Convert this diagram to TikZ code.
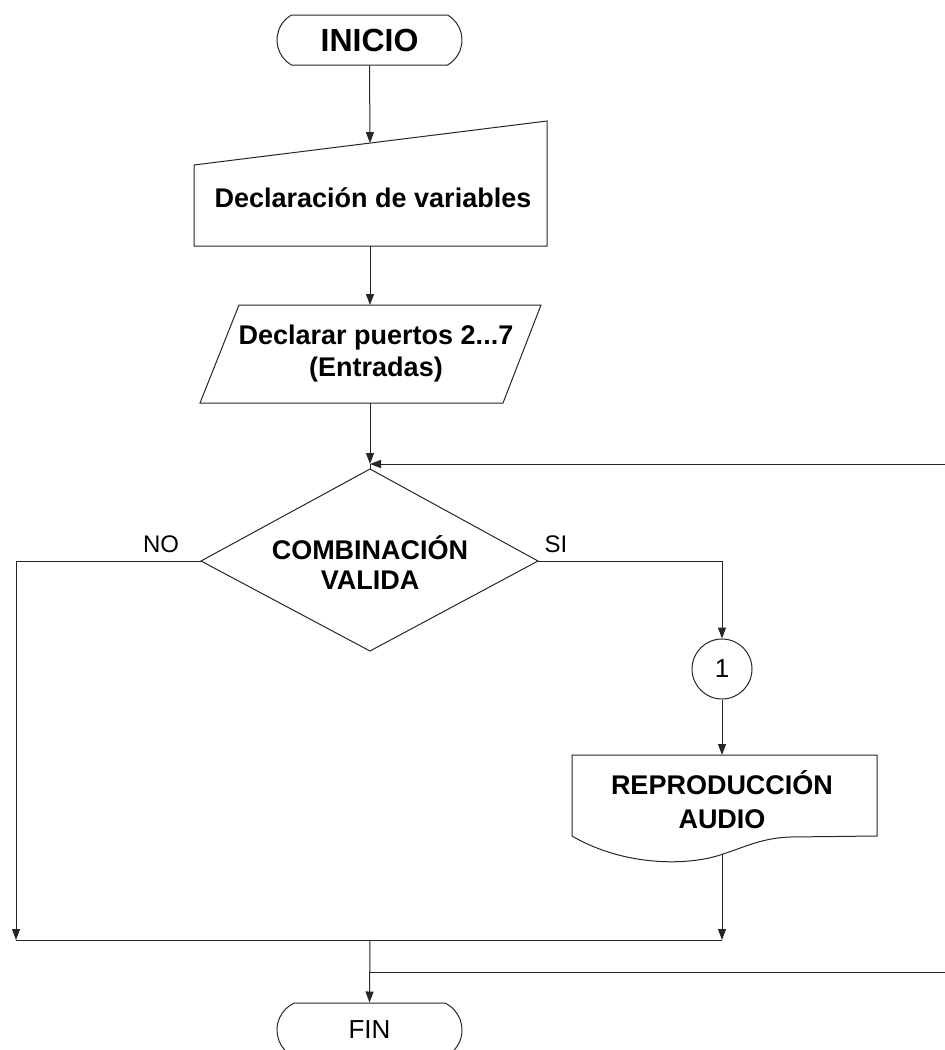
\documentclass[tikz,border=0pt]{standalone}
\usepackage{fontspec}
\setmainfont{Liberation Sans}
\usetikzlibrary{arrows.meta,shapes.misc}
\begin{document}
\begin{tikzpicture}[x=1pt,y=-1pt,
  ln/.style={draw=black!85,line width=1pt},
  arr/.style={ln,-{Triangle[length=11pt,width=8pt]}},
  shp/.style={draw=black!85,line width=1pt},
  term/.style={shp,rounded rectangle,rounded rectangle arc length=120,minimum width=185pt,minimum height=50pt,inner sep=0pt},
  bigtxt/.style={font=\bfseries\fontsize{27}{32}\selectfont,align=center},
  lbl/.style={font=\fontsize{24}{28}\selectfont}]
\useasboundingbox (0,0) rectangle (945,1050);
\begin{scope}
\clip (0,0) rectangle (945,1050);
% INICIO
\node[term,font=\bfseries\fontsize{32}{36}\selectfont] (ini) at (369.5,40) {INICIO};
% manual input
\draw[shp] (194,165) -- (547,121) -- (547,246) -- (194,246) -- cycle;
\node[bigtxt] (decl) at (373,198) {Declaración de variables};
\coordinate (declTop) at (370,143.1);
\coordinate (declBot) at (370,246);
% parallelogram
\draw[shp] (239,305) -- (541,305) -- (503,403) -- (200,403) -- cycle;
\node[bigtxt] (puertos) at (376,354) {Declarar puertos 2...7\\(Entradas)};
\coordinate (parTop) at (370,305);
\coordinate (parBot) at (370,403);
% diamond
\draw[shp] (370,469) -- (538,561) -- (370,651) -- (201,561) -- cycle;
\node[bigtxt,font=\bfseries\fontsize{27}{30}\selectfont] (comb) at (370,563) {COMBINACIÓN\\VALIDA};
\coordinate (dTop) at (370,469);
\coordinate (dLeft) at (201,561);
\coordinate (dRight) at (538,561);
\coordinate (join) at (370,464);
\coordinate (loopIn) at (945,464);
% labels
\node[lbl] (no) at (161,544) {NO};
\node[lbl] (si) at (556,544) {SI};
% connector circle
\node[shp,circle,minimum size=60pt,inner sep=0pt,font=\fontsize{26}{30}\selectfont] (c1) at (722,669) {1};
% document
\draw[shp] (572,755) -- (877,755) -- (877,836) -- (790,837)
  .. controls (762,838) and (745,847) .. (723,854)
  .. controls (690,866) and (625,867) .. (572,836) -- cycle;
\node[bigtxt,font=\bfseries\fontsize{27}{34}\selectfont] (rep) at (722,800) {REPRODUCCIÓN\\AUDIO};
\coordinate (docTop) at (722,755);
\coordinate (docBot) at (722,854);
% bottom
\coordinate (bl) at (16,940);
\coordinate (br) at (722,940);
\coordinate (bm) at (370,940);
\coordinate (lm) at (370,972);
\coordinate (loopOut) at (945,972);
\coordinate (noCorner) at (16,561);
\coordinate (siCorner) at (722,561);
\node[term,font=\fontsize{26}{30}\selectfont,minimum height=54pt,rounded rectangle arc length=130] (fin) at (369.5,1030) {FIN};
% connectors
\draw[arr] (ini.south) -- (declTop);
\draw[arr] (declBot) -- (parTop);
\draw[arr] (parBot) -- (join);
\draw[arr] (loopIn) -- (join);
\draw[ln] (join) -- (dTop);
\draw[arr] (dLeft) -- (noCorner) -- (bl);
\draw[arr] (dRight) -- (siCorner) -- (c1.north);
\draw[arr] (c1.south) -- (docTop);
\draw[arr] (docBot) -- (br);
\draw[ln] (bl) -- (br);
\draw[arr] (bm) -- (fin.north);
\draw[ln] (lm) -- (loopOut);
\end{scope}
\end{tikzpicture}
\end{document}
